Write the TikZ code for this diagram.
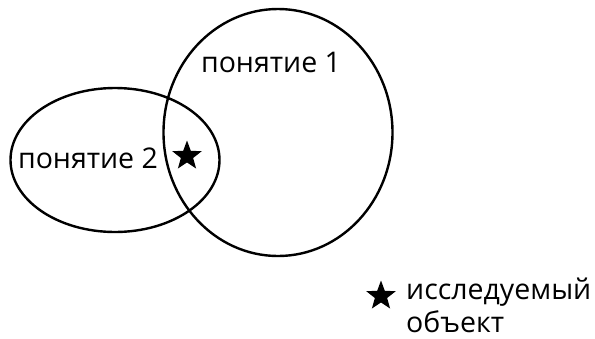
\documentclass[tikz,border=0pt]{standalone}
\usepackage{fontspec}
\setmainfont{Open Sans}
\usetikzlibrary{shapes.geometric}
\begin{document}
\begin{tikzpicture}[x=1pt,y=-1pt,
  circ/.style={draw=black,line width=2.4pt,ellipse,inner sep=0pt,outer sep=0pt},
  lbl/.style={font=\fontsize{28.5}{34}\selectfont,inner sep=0pt,anchor=base},
  starmark/.style={star,star points=5,star point ratio=2.4,fill=black,draw=none,minimum size=31pt,inner sep=0pt}]
\useasboundingbox (0,0) rectangle (595,338);
\node[circ,minimum width=229pt,minimum height=247pt] (c1) at (278,132.5) {};
\node[circ,minimum width=209pt,minimum height=144pt] (c2) at (115,160) {};
\node[lbl] (t1) at (271,72) {понятие 1};
\node[lbl] (t2) at (88,168) {понятие 2};
\node[starmark] (s1) at (187,156) {};
\node[starmark] (s2) at (381,296) {};
\node[lbl,anchor=base west] (l1) at (406,299) {исследуемый};
\node[lbl,anchor=base west] (l2) at (406,332) {объект};
\end{tikzpicture}
\end{document}
